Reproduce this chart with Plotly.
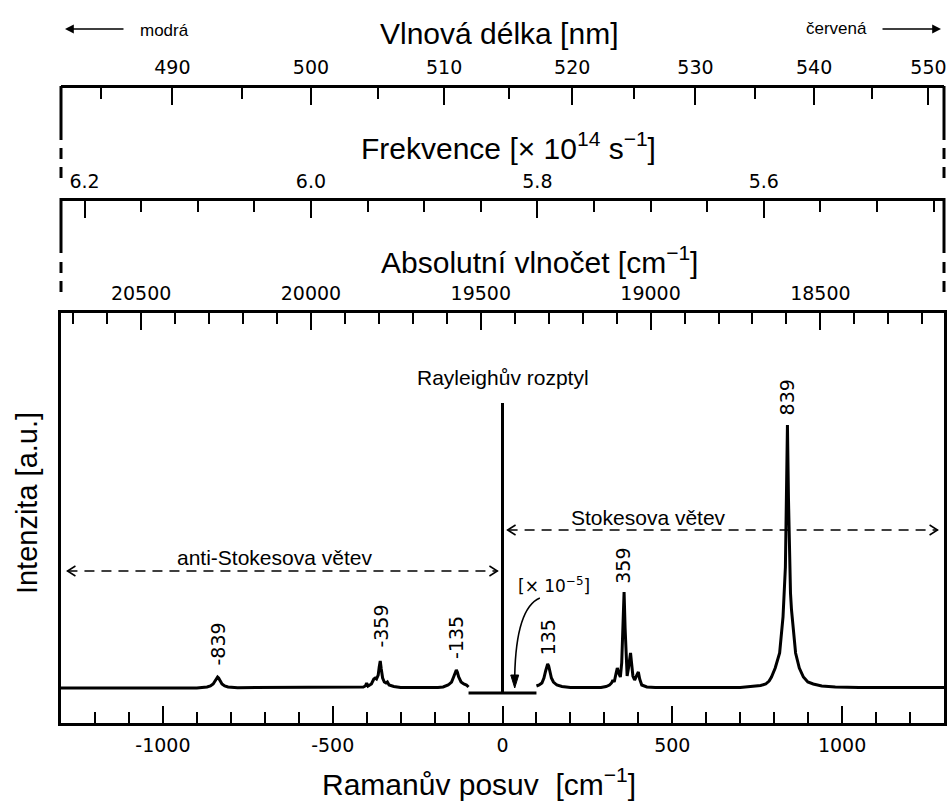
import plotly.graph_objects as go

# ---------------- data ----------------
LASER_WN = 19436          # absolute wavenumber of the exciting line [cm^-1] (514.5 nm)
C_CM = 3e10               # speed of light used for the frequency scale [cm/s]

# anti-Stokes branch (Raman shift, intensity)
AS_SHIFT = [-1300, -900, -870, -860, -852, -846, -842, -839, -836, -832, -826, -818, -808, -780,
            -440, -410, -404, -400, -396, -386, -379, -375, -371, -366, -363, -360, -357, -353,
            -348, -343, -339, -334, -320, -300, -190, -175, -160, -150, -144, -139, -136, -133,
            -129, -122, -114, -106, -100]
AS_INT = [0, 0, 1, 2, 4, 7, 10, 11, 10, 7, 4, 2, 1, 0.3,
          0.3, 1, 2, 5, 2, 4, 9, 10, 9, 13, 21, 27, 19, 10,
          6, 5, 6, 3, 1.5, 0.5, 0.5, 1, 3, 6, 11, 16, 18, 16,
          11, 6, 4, 3, 1]

# Rayleigh line (scaled by 1e-5)
RAY_SHIFT = [-100, 0, 0, 0, 100]
RAY_INT = [-5, -5, 285, -5, -5]

# Stokes branch
ST_SHIFT = [100, 108, 116, 122, 127, 130, 133, 136, 139, 144, 150, 160, 175, 200,
            290, 305, 315, 321, 325, 329, 334, 338, 342, 347, 351, 355, 358, 361, 364, 367,
            371, 375, 377, 380, 384, 389, 395, 400, 404, 410, 425, 450,
            700, 740, 760, 775, 785, 792, 803, 816, 826, 833, 836, 839, 842, 845, 848, 851,
            854, 858, 863, 874, 886, 899, 915, 940, 980, 1050, 1300]
ST_INT = [2, 3, 5, 10, 17, 22, 24, 22, 17, 10, 6, 3, 1.5, 0.5,
          0.5, 1.5, 3, 5, 8, 6, 14, 20, 15, 11, 25, 60, 96, 60, 25, 12,
          20, 32, 35, 25, 12, 8, 12, 16, 9, 3, 1, 0.5,
          0.5, 1.5, 2.5, 4, 7, 11, 20, 35, 71, 121, 190, 263, 190, 125, 95, 78,
          66, 50, 35, 20, 11, 6, 4, 2, 1, 0.5, 0.5]

PEAK_LABELS = ["-839", "-359", "-135", "135", "359", "839"]
PEAK_LABEL_X = [-839, -359, -137, 135, 354, 839]
PEAK_LABEL_Y = [44, 62, 51, 51, 122, 291]

SHIFT_TICKS = [-1000, -500, 0, 500, 1000]
WAVELENGTH_MAJOR = [490, 500, 510, 520, 530, 540, 550]
WAVELENGTH_MINOR = [485, 495, 505, 515, 525, 535, 545]
FREQ_MAJOR = [6.2, 6.0, 5.8, 5.6]
FREQ_MINOR = [6.15, 6.1, 6.05, 5.95, 5.9, 5.85, 5.75, 5.7, 5.65, 5.55, 5.5, 5.45]

SHIFT_RANGE = [-1300, 1300]
INT_RANGE = [-35, 375]


def wl_to_shift(nm):
    return LASER_WN - 1e7 / nm


def freq_to_shift(f14):
    return LASER_WN - f14 * 1e14 / C_CM


# ---------------- geometry ----------------
W, H = 952, 803
ML, MR, MT, MB = 61, 5, 86, 80
PW, PH = W - ML - MR, H - MT - MB


def fx(px):
    return (px - ML) / PW


def fy(py):
    return (H - MB - py) / PH


TITLE_FONT = dict(family="Liberation Sans, Arial, sans-serif", size=30, color="black")
TEXT_FONT = dict(family="Liberation Sans, Arial, sans-serif", size=21, color="black")
TICK_FONT = dict(family="DejaVu Sans, Verdana, sans-serif", size=19, color="black")

fig = go.Figure()
line_style = dict(color="black", width=3)
fig.add_trace(go.Scatter(x=AS_SHIFT, y=AS_INT, mode="lines", line=line_style, showlegend=False))
fig.add_trace(go.Scatter(x=RAY_SHIFT, y=RAY_INT, mode="lines", line=line_style, showlegend=False))
fig.add_trace(go.Scatter(x=ST_SHIFT, y=ST_INT, mode="lines", line=line_style, showlegend=False))

common_ticks = dict(ticks="inside", ticklen=17, tickwidth=2, tickcolor="black",
                    tickfont=TICK_FONT, showgrid=False, zeroline=False)
minor_common = dict(ticks="inside", ticklen=11, tickwidth=2, tickcolor="black", showgrid=False)

fig.update_layout(
    width=W, height=H,
    margin=dict(l=ML, r=MR, t=MT, b=MB),
    paper_bgcolor="white", plot_bgcolor="white",
    showlegend=False,
    xaxis=dict(range=SHIFT_RANGE, domain=[0, 1], anchor="y", side="bottom",
               tickmode="array", tickvals=SHIFT_TICKS, ticktext=[str(v) for v in SHIFT_TICKS],
               minor=dict(dtick=100, tick0=0, **minor_common),
               showline=True, linewidth=3, linecolor="black", mirror=True,
               ticklabelstandoff=3, **common_ticks),
    yaxis=dict(range=INT_RANGE, domain=[0, fy(313)], showline=True, linewidth=3,
               linecolor="black", mirror=True, ticks="", showticklabels=False,
               showgrid=False, zeroline=False),
    xaxis2=dict(overlaying="x", anchor="y", side="top",
                range=[LASER_WN - SHIFT_RANGE[0], LASER_WN - SHIFT_RANGE[1]],
                tickmode="linear", tick0=0, dtick=500, exponentformat="none",
                separatethousands=False, tickformat="d",
                minor=dict(dtick=100, **minor_common),
                showline=False, ticklabelstandoff=8, **common_ticks),
    xaxis3=dict(overlaying="x", anchor="free", position=fy(199), side="top",
                range=SHIFT_RANGE,
                tickmode="array", tickvals=[freq_to_shift(v) for v in FREQ_MAJOR],
                ticktext=[f"{v:.1f}" for v in FREQ_MAJOR],
                minor=dict(tickmode="array", tickvals=[freq_to_shift(v) for v in FREQ_MINOR],
                           **minor_common),
                showline=True, linewidth=3, linecolor="black",
                ticklabelstandoff=2, **common_ticks),
    xaxis4=dict(overlaying="x", anchor="free", position=1.0, side="top",
                range=SHIFT_RANGE,
                tickmode="array", tickvals=[wl_to_shift(v) for v in WAVELENGTH_MAJOR],
                ticktext=[str(v) for v in WAVELENGTH_MAJOR],
                minor=dict(tickmode="array", tickvals=[wl_to_shift(v) for v in WAVELENGTH_MINOR],
                           **minor_common),
                showline=True, linewidth=3, linecolor="black",
                ticklabelstandoff=3, **common_ticks),
)

# invisible traces so the extra axes are instantiated
for ax in ["x2", "x3", "x4"]:
    rng = [LASER_WN - SHIFT_RANGE[0], LASER_WN - SHIFT_RANGE[1]] if ax == "x2" else SHIFT_RANGE
    fig.add_trace(go.Scatter(x=rng, y=[INT_RANGE[0], INT_RANGE[0]], xaxis=ax, yaxis="y",
                             mode="lines", line=dict(width=0), hoverinfo="skip", showlegend=False))

# ---------- side lines of the upper panels (broken-axis marks) ----------
shapes = []
for xp in (0, 1):
    for top, solid_end, dashes in ((86, 140, [(148, 159), (167, 178)]),
                                   (198, 253, [(262, 273), (281, 292)])):
        shapes.append(dict(type="line", xref="paper", yref="paper", x0=xp, x1=xp,
                           y0=fy(top), y1=fy(solid_end), line=dict(color="black", width=3)))
        for d0, d1 in dashes:
            shapes.append(dict(type="line", xref="paper", yref="paper", x0=xp, x1=xp,
                               y0=fy(d0), y1=fy(d1), line=dict(color="black", width=3)))

# branch arrows (dashed)
XPU = (SHIFT_RANGE[1] - SHIFT_RANGE[0]) / PW   # shift units per pixel


def dashed_arrow(x0, x1, y):
    out = [dict(type="line", xref="x", yref="y", x0=x0, x1=x1, y0=y, y1=y,
                line=dict(color="black", width=1.5, dash="10px,7px"))]
    for tip, sgn in ((x0, 1), (x1, -1)):
        out.append(dict(type="path", xref="x", yref="y",
                        path=f"M {tip + sgn * 8 * XPU},{y + 5} L {tip},{y} L {tip + sgn * 8 * XPU},{y - 5}",
                        line=dict(color="black", width=1.5)))
    return out


shapes += dashed_arrow(-1281, -15, 117)
shapes += dashed_arrow(15, 1281, 158)

# curved arrow for [x 10^-5]
shapes.append(dict(type="path", xref="x", yref="y",
                   path="M 110,90 Q 40,80 36,12", line=dict(color="black", width=1.6)))
shapes.append(dict(type="path", xref="x", yref="y",
                   path=f"M 36,0 L {36 - 4 * XPU},13 L {36 + 4 * XPU},13 Z",
                   line=dict(color="black", width=1), fillcolor="black"))
fig.update_layout(shapes=shapes)

# ---------------- annotations ----------------
ann = []
ann.append(dict(text="Vlnová délka [nm]", x=fx(500), y=fy(34), xref="paper", yref="paper",
                showarrow=False, font=TITLE_FONT, xanchor="center", yanchor="middle"))
ann.append(dict(text="Frekvence [× 10<sup>14</sup> s<sup>−1</sup>]", x=fx(510), y=fy(146),
                xref="paper", yref="paper", showarrow=False, font=TITLE_FONT,
                xanchor="center", yanchor="middle"))
ann.append(dict(text="Absolutní vlnočet [cm<sup>−1</sup>]", x=fx(541), y=fy(260),
                xref="paper", yref="paper", showarrow=False, font=TITLE_FONT,
                xanchor="center", yanchor="middle"))
ann.append(dict(text="Ramanův posuv  [cm<sup>−1</sup>]", x=fx(480), y=fy(782),
                xref="paper", yref="paper", showarrow=False, font=TITLE_FONT,
                xanchor="center", yanchor="middle"))
ann.append(dict(text="Intenzita [a.u.]", x=fx(27), y=fy(503), xref="paper", yref="paper",
                showarrow=False, textangle=-90,
                font=dict(family="Liberation Sans, Arial, sans-serif", size=29, color="black"),
                xanchor="center", yanchor="middle"))
ann.append(dict(text="modrá", x=fx(165), y=fy(30), xref="paper", yref="paper", showarrow=False,
                font=dict(family="Liberation Sans, Arial, sans-serif", size=17, color="black"),
                xanchor="center", yanchor="middle"))
ann.append(dict(text="červená", x=fx(839), y=fy(28), xref="paper", yref="paper", showarrow=False,
                font=dict(family="Liberation Sans, Arial, sans-serif", size=17, color="black"),
                xanchor="center", yanchor="middle"))
ann.append(dict(text="", x=fx(65), y=fy(29), xref="paper", yref="paper", showarrow=True,
                ax=60, ay=0, arrowhead=2, arrowsize=1.1, arrowwidth=1.6, arrowcolor="black"))
ann.append(dict(text="", x=fx(944), y=fy(29), xref="paper", yref="paper", showarrow=True,
                ax=-60, ay=0, arrowhead=2, arrowsize=1.1, arrowwidth=1.6, arrowcolor="black"))

ann.append(dict(text="Rayleighův rozptyl", x=0, y=311, xref="x", yref="y", showarrow=False,
                font=TEXT_FONT, xanchor="center", yanchor="middle"))
ann.append(dict(text="anti-Stokesova větev", x=-671, y=131, xref="x", yref="y", showarrow=False,
                font=TEXT_FONT, xanchor="center", yanchor="middle"))
ann.append(dict(text="Stokesova větev", x=430, y=171, xref="x", yref="y", showarrow=False,
                font=TEXT_FONT, xanchor="center", yanchor="middle"))
ann.append(dict(text="[× 10<sup>−5</sup>]", x=152, y=103, xref="x", yref="y", showarrow=False,
                font=dict(family="DejaVu Sans, Verdana, sans-serif", size=17, color="black"),
                xanchor="center", yanchor="middle"))
for lab, lx, ly in zip(PEAK_LABELS, PEAK_LABEL_X, PEAK_LABEL_Y):
    ann.append(dict(text=lab, x=lx, y=ly, xref="x", yref="y", showarrow=False, textangle=-90,
                    font=TICK_FONT, xanchor="center", yanchor="middle"))
fig.update_layout(annotations=ann)

fig.write_html("out.html")
